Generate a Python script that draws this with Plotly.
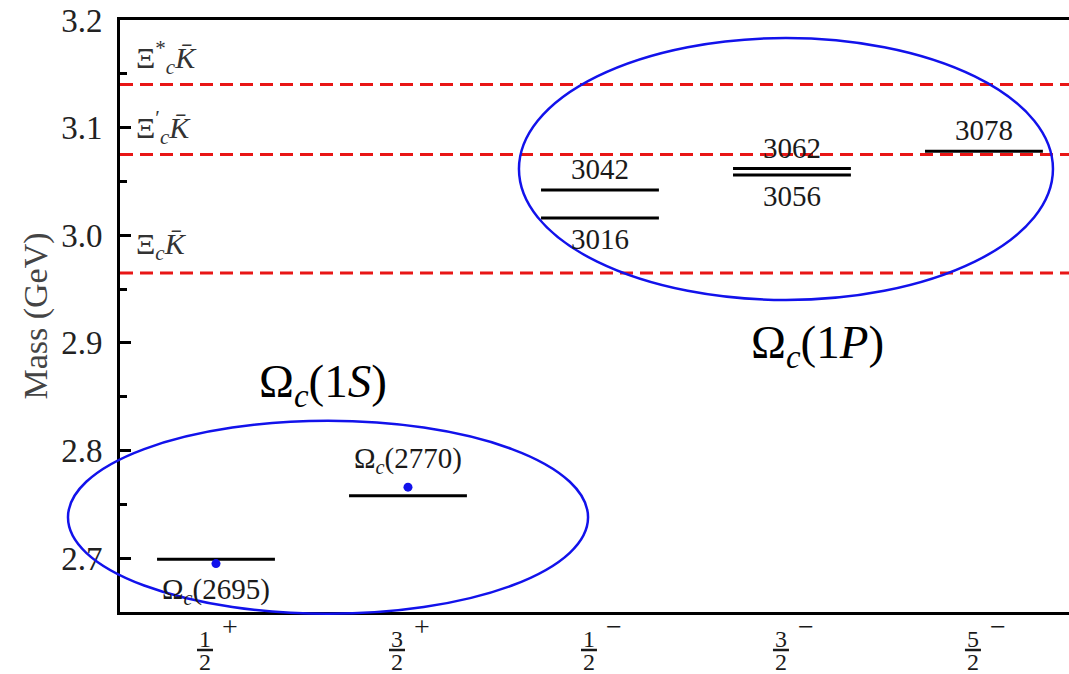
import plotly.graph_objects as go

# Spin-parity columns along the x axis (J = num/2, parity)
columns = [0, 1, 2, 3, 4]
numerators = ["1", "3", "1", "3", "5"]
denominators = ["2", "2", "2", "2", "2"]
parities = ["+", "+", "\u2212", "\u2212", "\u2212"]

# Predicted Omega_c levels (GeV) and the column they belong to
level_col = [0, 1, 2, 2, 3, 3, 4]
level_mass = [2.699, 2.758, 3.016, 3.042, 3.056, 3.062, 3.078]
# Text printed next to the 1P levels (+1 above the bar, -1 below)
level_text = ["", "", "3016", "3042", "3056", "3062", "3078"]
level_side = [0, 0, -1, 1, -1, 1, 1]

# Observed states (GeV)
obs_col = [0, 1]
obs_mass = [2.695, 2.766]
obs_text = ["2695", "2770"]
obs_side = [-1, 1]

# Meson-baryon thresholds (GeV)
thr_mass = [2.965, 3.075, 3.140]
thr_text = [
    "\u039e<sub><i>c</i></sub><i>K\u0304</i>",
    "\u039e<sup>\u2032</sup><sub><i>c</i></sub><i>K\u0304</i>",
    "\u039e<sup>*</sup><sub><i>c</i></sub><i>K\u0304</i>",
]

SERIF = "Liberation Serif, Times New Roman, DejaVu Serif, serif"
BLUE = "rgb(18,18,235)"
RED = "rgb(232,22,22)"
HALF = 0.307  # half-width of a level bar in column units

fig = go.Figure()

# Level bars
xs, ys = [], []
for c, m in zip(level_col, level_mass):
    xs += [c - HALF, c + HALF, None]
    ys += [m, m, None]
fig.add_trace(go.Scatter(x=xs, y=ys, mode="lines",
                         line=dict(color="black", width=3),
                         hoverinfo="skip"))

# Observed masses
fig.add_trace(go.Scatter(x=obs_col, y=obs_mass, mode="markers",
                         marker=dict(color=BLUE, size=9)))

shapes = []
annotations = []

# Threshold lines and their labels
for m, t in zip(thr_mass, thr_text):
    shapes.append(dict(type="line", xref="paper", x0=0, x1=1, yref="y", y0=m, y1=m,
                       line=dict(color=RED, width=3, dash="13px,7px"), layer="below"))
    annotations.append(dict(xref="paper", x=0, xanchor="left", xshift=14,
                            yref="y", y=m, yanchor="middle", yshift=27,
                            text=t, showarrow=False,
                            font=dict(family=SERIF, size=30, color="#333")))

# Level value labels
for c, m, t, s in zip(level_col, level_mass, level_text, level_side):
    if not t:
        continue
    annotations.append(dict(xref="x", x=c, yref="y", y=m, yanchor="middle",
                            yshift=21 * s, text=t, showarrow=False,
                            font=dict(family=SERIF, size=29, color="#1a1a1a")))

# Observed-state labels
for c, m, t, s in zip(obs_col, obs_mass, obs_text, obs_side):
    annotations.append(dict(xref="x", x=c, yref="y", y=m, yanchor="middle",
                            yshift=27 * s, text="\u03a9<sub><i>c</i></sub>(" + t + ")",
                            showarrow=False,
                            font=dict(family=SERIF, size=29, color="#1a1a1a")))

# Spin-parity fractions under the axis
for c, n, d, p in zip(columns, numerators, denominators, parities):
    annotations.append(dict(xref="x", x=c, xshift=-11, yref="paper", y=0, yshift=-27,
                            yanchor="middle", height=22, borderpad=0, text=n,
                            showarrow=False,
                            font=dict(family=SERIF, size=24, color="#1a1a1a")))
    annotations.append(dict(xref="x", x=c, xshift=-11, yref="paper", y=0, yshift=-50,
                            yanchor="middle", height=22, borderpad=0, text=d,
                            showarrow=False,
                            font=dict(family=SERIF, size=24, color="#1a1a1a")))
    annotations.append(dict(xref="x", x=c, xshift=14, yref="paper", y=0, yshift=-14,
                            yanchor="middle", borderpad=0, text=p,
                            showarrow=False,
                            font=dict(family=SERIF, size=28, color="#1a1a1a")))
    shapes.append(dict(type="line", xref="x", xsizemode="pixel", xanchor=c,
                       x0=-19, x1=-3, yref="paper", ysizemode="pixel", yanchor=0,
                       y0=-38, y1=-38, line=dict(color="#1a1a1a", width=2.5)))

# Multiplet groupings
shapes.append(dict(type="circle", xref="paper", yref="paper",
                   x0=-0.0548, x1=0.4932, y0=-0.003, y1=0.323,
                   line=dict(color=BLUE, width=2.5)))
shapes.append(dict(type="circle", xref="paper", yref="paper",
                   x0=0.4204, x1=0.9831, y0=0.527, y1=0.9696,
                   line=dict(color=BLUE, width=2.5)))
annotations.append(dict(xref="paper", yref="paper", x=(323 - 120) / 949, y=(612 - 384) / 592,
                        xanchor="center", yanchor="middle",
                        text="\u03a9<sub><i>c</i></sub>(1<i>S</i>)", showarrow=False,
                        font=dict(family=SERIF, size=47, color="black")))
annotations.append(dict(xref="paper", yref="paper", x=(817 - 120) / 949, y=(612 - 345) / 592,
                        xanchor="center", yanchor="middle",
                        text="\u03a9<sub><i>c</i></sub>(1<i>P</i>)", showarrow=False,
                        font=dict(family=SERIF, size=47, color="black")))

fig.update_layout(
    width=1069, height=674,
    margin=dict(l=120, r=0, t=20, b=62),
    plot_bgcolor="white", paper_bgcolor="white",
    showlegend=False,
    shapes=shapes, annotations=annotations,
    xaxis=dict(range=[-0.5, 4.443], showline=True, mirror=True, linecolor="black",
               linewidth=3, ticks="", showticklabels=False, showgrid=False,
               zeroline=False),
    yaxis=dict(range=[2.65, 3.2], tick0=2.7, dtick=0.1, tickformat=".1f",
               ticks="inside", ticklen=11, tickwidth=2.5, tickcolor="black",
               showline=True, linecolor="black", linewidth=3,
               showgrid=False, zeroline=False, ticklabelstandoff=8,
               tickfont=dict(family=SERIF, size=33, color="#222"),
               minor=dict(ticks="inside", ticklen=7, tickwidth=2.5, tickcolor="black",
                          dtick=0.05, tick0=2.65, showgrid=False),
               title=dict(text="Mass (GeV)", standoff=4,
                          font=dict(family=SERIF, size=34, color="#444"))),
    yaxis2=dict(overlaying="y", side="right", range=[2.65, 3.2], tick0=2.7, dtick=0.1,
                ticks="inside", ticklen=3, tickwidth=2.5, tickcolor="black",
                showticklabels=False, showline=False, showgrid=False, zeroline=False),
)

fig.write_html("out.html")
